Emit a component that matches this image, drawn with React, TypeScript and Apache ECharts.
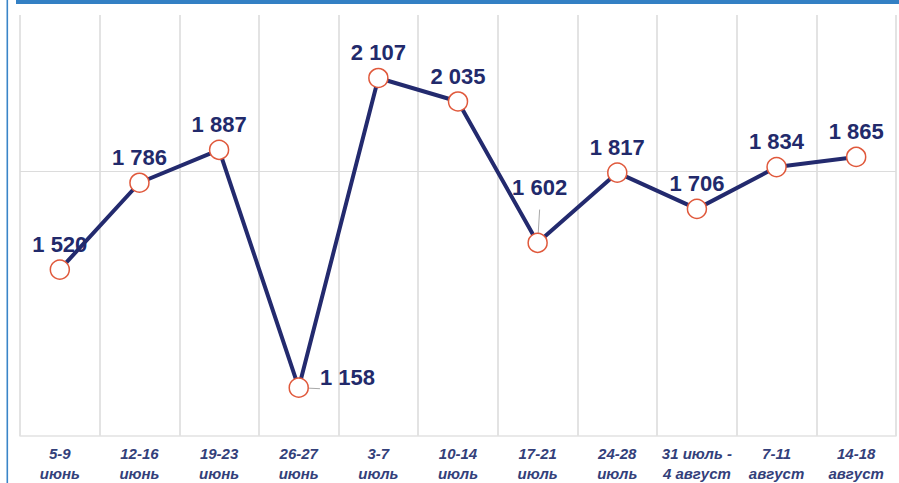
import React, { useEffect, useRef } from "react";
import * as echarts from "echarts";

const categories = [
  "5-9\nиюнь",
  "12-16\nиюнь",
  "19-23\nиюнь",
  "26-27\nиюнь",
  "3-7\nиюль",
  "10-14\nиюль",
  "17-21\nиюль",
  "24-28\nиюль",
  "31 июль -\n4 август",
  "7-11\nавгуст",
  "14-18\nавгуст",
];

const values = [1520, 1786, 1887, 1158, 2107, 2035, 1602, 1817, 1706, 1834, 1865];

const referenceLine = 1822;

function fmt(v: number): string {
  const s = String(v);
  return s.length > 3 ? s.slice(0, s.length - 3) + " " + s.slice(s.length - 3) : s;
}

export default function App() {
  const ref = useRef<HTMLDivElement>(null);

  useEffect(() => {
    if (!ref.current) return;
    const chart = echarts.init(ref.current, undefined, { renderer: "svg" });

    const data = values.map((v, i) => {
      const item: any = { value: v };
      if (i === 3) {
        item.label = { position: "right", distance: 11, offset: [0, -10] };
        item.labelLine = { show: true, lineStyle: { color: "#a8a8a8", width: 1 } };
      }
      if (i === 6) {
        item.label = { offset: [2, -30] };
        item.labelLine = { show: true, lineStyle: { color: "#a8a8a8", width: 1 } };
      }
      return item;
    });

    chart.setOption({
      animation: false,
      backgroundColor: "#ffffff",
      grid: { left: 20, right: 3, top: 15, bottom: 47 },
      xAxis: {
        type: "category",
        data: categories,
        boundaryGap: true,
        axisLine: { show: true, lineStyle: { color: "#e2e2e2", width: 1.5 } },
        axisTick: { show: false },
        splitLine: { show: true, lineStyle: { color: "#dadada", width: 1.5 } },
        axisLabel: {
          interval: 0,
          margin: 7,
          fontFamily: "Liberation Sans, Arial, sans-serif",
          fontSize: 15,
          fontWeight: "bold",
          fontStyle: "italic",
          color: "#33407a",
          lineHeight: 20,
        },
      },
      yAxis: {
        type: "value",
        min: 1010,
        max: 2300,
        show: false,
        splitLine: { show: false },
      },
      graphic: [
        { type: "rect", shape: { x: 16, y: 0, width: 883, height: 4 }, style: { fill: "#3380c4" }, silent: true },
        { type: "rect", shape: { x: 6.5, y: 0, width: 1.6, height: 483 }, style: { fill: "#3a85c8" }, silent: true },
      ],
      series: [
        {
          type: "line",
          data,
          symbol: "circle",
          symbolSize: 19,
          lineStyle: { color: "#232a6e", width: 4 },
          itemStyle: { color: "#ffffff", borderColor: "#e0593c", borderWidth: 1.5 },
          label: {
            show: true,
            position: "top",
            distance: 4,
            fontFamily: "Liberation Sans, Arial, sans-serif",
            fontSize: 22,
            fontWeight: "bold",
            color: "#222a6b",
            formatter: (p: any) => fmt(p.value),
          },
          markLine: {
            silent: true,
            symbol: "none",
            label: { show: false },
            lineStyle: { color: "#dcdcdc", width: 1.2, type: "solid" },
            data: [{ yAxis: referenceLine }],
            z: 1,
          },
          z: 3,
        },
      ],
    });

    return () => chart.dispose();
  }, []);

  return (
    <div
      ref={ref}
      style={{ position: "fixed", left: 0, top: 0, width: 899, height: 483 }}
    />
  );
}
